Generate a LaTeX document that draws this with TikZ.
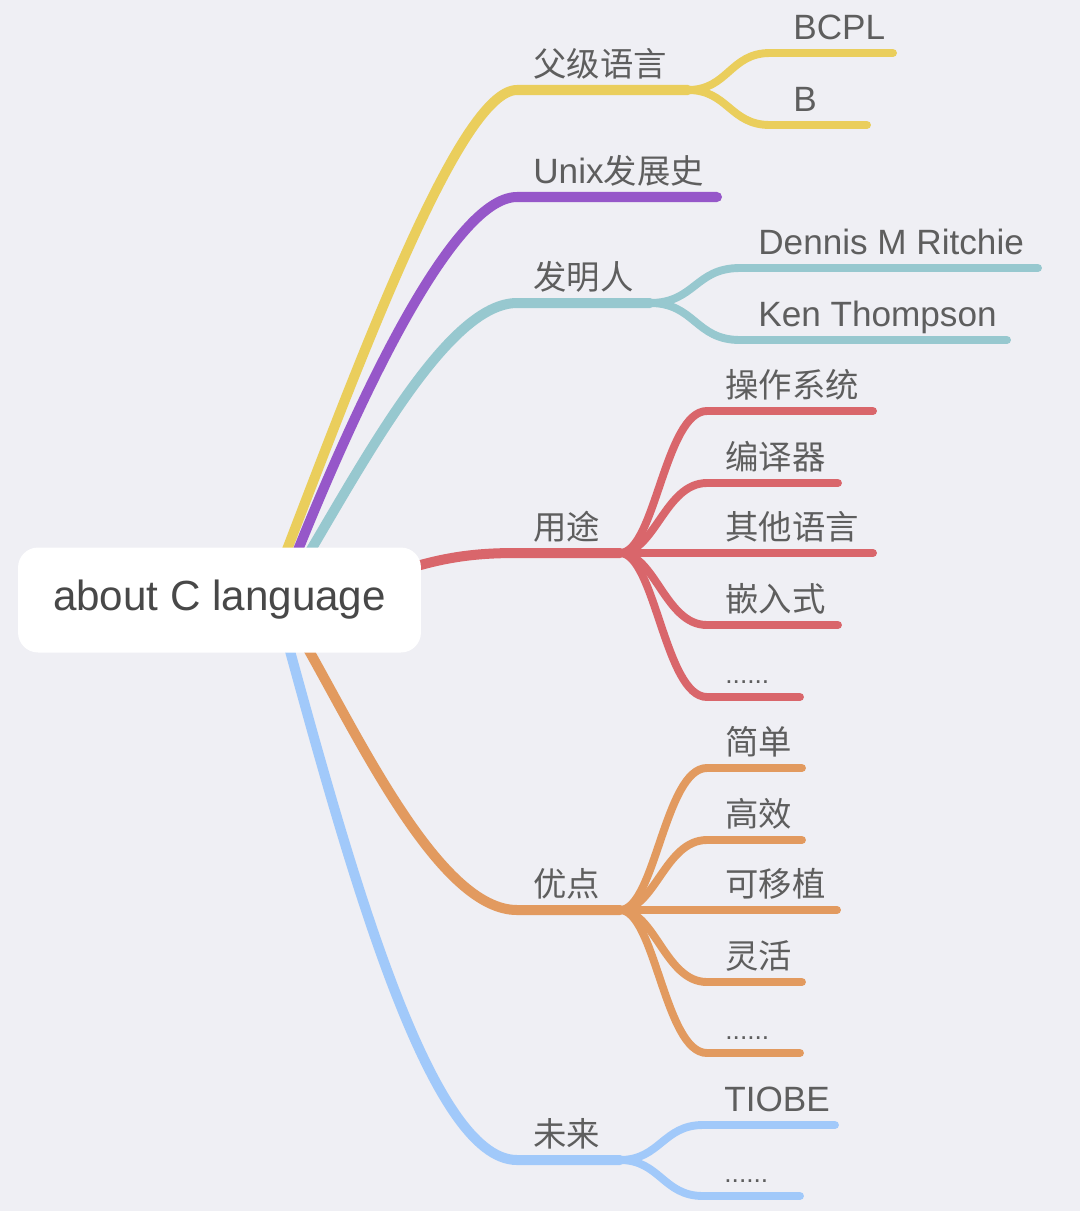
\documentclass[tikz,border=0pt]{standalone}
\usepackage{fontspec}
\setmainfont{Liberation Sans}
\newfontfamily\cjk{Noto Sans CJK SC}[Scale=0.95]
\usepackage{tikz}
\definecolor{mapbg}{RGB}{239,239,244}
\definecolor{maptext}{RGB}{94,94,94}
\definecolor{roottext}{RGB}{72,72,72}
\definecolor{mapyel}{RGB}{234,206,92}
\definecolor{mappur}{RGB}{150,87,201}
\definecolor{mapteal}{RGB}{151,200,207}
\definecolor{mapred}{RGB}{217,102,107}
\definecolor{maporg}{RGB}{226,154,95}
\definecolor{mapblue}{RGB}{161,201,250}
\tikzset{
  br/.style     ={line width=5.7pt, line cap=round},
  sb/.style     ={line width=4.5pt, line cap=round},
  lab/.style    ={anchor=base west, inner sep=0pt, text=maptext, font=\fontsize{20}{24}\selectfont},
  dotlab/.style ={anchor=base west, inner sep=0pt, text=maptext, font=\fontsize{15}{18}\selectfont},
  rootbox/.style={fill=white, rounded corners=0.4cm, minimum width=8.06cm, minimum height=2.1cm,
                  inner sep=0pt, text=roottext, font=\fontsize{24}{28}\selectfont},
}

\begin{document}
\begin{tikzpicture}[x=0.02cm, y=-0.02cm]
  \useasboundingbox[fill=mapbg] (0,0) rectangle (1080,1211);
  % points where the branches leave the central box
  \coordinate (ry) at (283,560);
  \coordinate (rp) at (294,560);
  \coordinate (rt) at (305,560);
  \coordinate (rr) at (410,568);
  \coordinate (ro) at (303,640);
  \coordinate (rb) at (287,640);
  % yellow
  \coordinate (y1) at (517,90);
  \coordinate (yf) at (688,90);
  \coordinate (yb1) at (770,53);  \coordinate (ye1) at (893,53);
  \coordinate (yb2) at (770,125); \coordinate (ye2) at (867,125);
  \draw[br,mapyel] (ry) .. controls (360,360) and (460,90) .. (y1) -- (yf);
  \draw[sb,mapyel] (yf) .. controls +(40,0) and +(-40,0) .. (yb1) -- (ye1);
  \draw[sb,mapyel] (yf) .. controls +(40,0) and +(-40,0) .. (yb2) -- (ye2);
  \node[lab] (parent) at (533,76) {\cjk 父级语言};
  \node[lab] (bcpl) at (793,39) {BCPL};
  \node[lab] (blang) at (793,111) {B};
  % purple
  \coordinate (p1) at (517,197);
  \coordinate (pe) at (717,197);
  \draw[br,mappur] (rp) .. controls (350,420) and (450,197) .. (p1) -- (pe);
  \node[lab] (unix) at (533,183) {Unix{\cjk 发展史}};
  % teal
  \coordinate (t1) at (517,303);
  \coordinate (tf) at (650,303);
  \coordinate (tb1) at (740,268); \coordinate (te1) at (1038,268);
  \coordinate (tb2) at (740,340); \coordinate (te2) at (1007,340);
  \draw[br,mapteal] (rt) .. controls (370,450) and (450,303) .. (t1) -- (tf);
  \draw[sb,mapteal] (tf) .. controls +(45,0) and +(-45,0) .. (tb1) -- (te1);
  \draw[sb,mapteal] (tf) .. controls +(45,0) and +(-45,0) .. (tb2) -- (te2);
  \node[lab] (inventor) at (533,289) {\cjk 发明人};
  \node[lab] (dmr) at (758,254) {Dennis M Ritchie};
  \node[lab] (ken) at (758,326) {Ken Thompson};
  % red
  \coordinate (r1) at (517,553);
  \coordinate (rf) at (620,553);
  \coordinate (rb1) at (707,411); \coordinate (re1) at (873,411);
  \coordinate (rb2) at (707,483); \coordinate (re2) at (838,483);
  \coordinate (re3) at (873,553);
  \coordinate (rb4) at (707,625); \coordinate (re4) at (838,625);
  \coordinate (rb5) at (707,697); \coordinate (re5) at (800,697);
  \draw[br,mapred] (rr) .. controls (450,556) and (480,553) .. (r1) -- (rf);
  \draw[sb,mapred] (rf) .. controls +(35,0) and +(-42,0) .. (rb1) -- (re1);
  \draw[sb,mapred] (rf) .. controls +(35,0) and +(-42,0) .. (rb2) -- (re2);
  \draw[sb,mapred] (rf) -- (re3);
  \draw[sb,mapred] (rf) .. controls +(35,0) and +(-42,0) .. (rb4) -- (re4);
  \draw[sb,mapred] (rf) .. controls +(35,0) and +(-42,0) .. (rb5) -- (re5);
  \node[lab] (use) at (533,539) {\cjk 用途};
  \node[lab] (os) at (725,397) {\cjk 操作系统};
  \node[lab] (comp) at (725,469) {\cjk 编译器};
  \node[lab] (other) at (725,539) {\cjk 其他语言};
  \node[lab] (embed) at (725,611) {\cjk 嵌入式};
  \node[dotlab] (usemore) at (725,683) {......};
  % orange
  \coordinate (o1) at (517,910);
  \coordinate (of) at (620,910);
  \coordinate (ob1) at (707,768);  \coordinate (oe1) at (802,768);
  \coordinate (ob2) at (707,840);  \coordinate (oe2) at (802,840);
  \coordinate (oe3) at (837,910);
  \coordinate (ob4) at (707,982);  \coordinate (oe4) at (802,982);
  \coordinate (ob5) at (707,1053); \coordinate (oe5) at (800,1053);
  \draw[br,maporg] (ro) .. controls (360,740) and (440,910) .. (o1) -- (of);
  \draw[sb,maporg] (of) .. controls +(35,0) and +(-42,0) .. (ob1) -- (oe1);
  \draw[sb,maporg] (of) .. controls +(35,0) and +(-42,0) .. (ob2) -- (oe2);
  \draw[sb,maporg] (of) -- (oe3);
  \draw[sb,maporg] (of) .. controls +(35,0) and +(-42,0) .. (ob4) -- (oe4);
  \draw[sb,maporg] (of) .. controls +(35,0) and +(-42,0) .. (ob5) -- (oe5);
  \node[lab] (merit) at (533,896) {\cjk 优点};
  \node[lab] (simple) at (725,754) {\cjk 简单};
  \node[lab] (fast) at (725,826) {\cjk 高效};
  \node[lab] (port) at (725,896) {\cjk 可移植};
  \node[lab] (flex) at (725,968) {\cjk 灵活};
  \node[dotlab] (meritmore) at (725,1039) {......};
  % blue
  \coordinate (b1) at (517,1160);
  \coordinate (bf) at (620,1160);
  \coordinate (bb1) at (703,1125); \coordinate (be1) at (835,1125);
  \coordinate (bb2) at (703,1196); \coordinate (be2) at (800,1196);
  \draw[br,mapblue] (rb) .. controls (350,870) and (430,1160) .. (b1) -- (bf);
  \draw[sb,mapblue] (bf) .. controls +(40,0) and +(-40,0) .. (bb1) -- (be1);
  \draw[sb,mapblue] (bf) .. controls +(40,0) and +(-40,0) .. (bb2) -- (be2);
  \node[lab] (future) at (533,1146) {\cjk 未来};
  \node[lab] (tiobe) at (724,1111) {TIOBE};
  \node[dotlab] (futuremore) at (724,1182) {......};
  % central topic
  \node[rootbox] (root) at (219.5,600) {about C language};
\end{tikzpicture}
\end{document}
